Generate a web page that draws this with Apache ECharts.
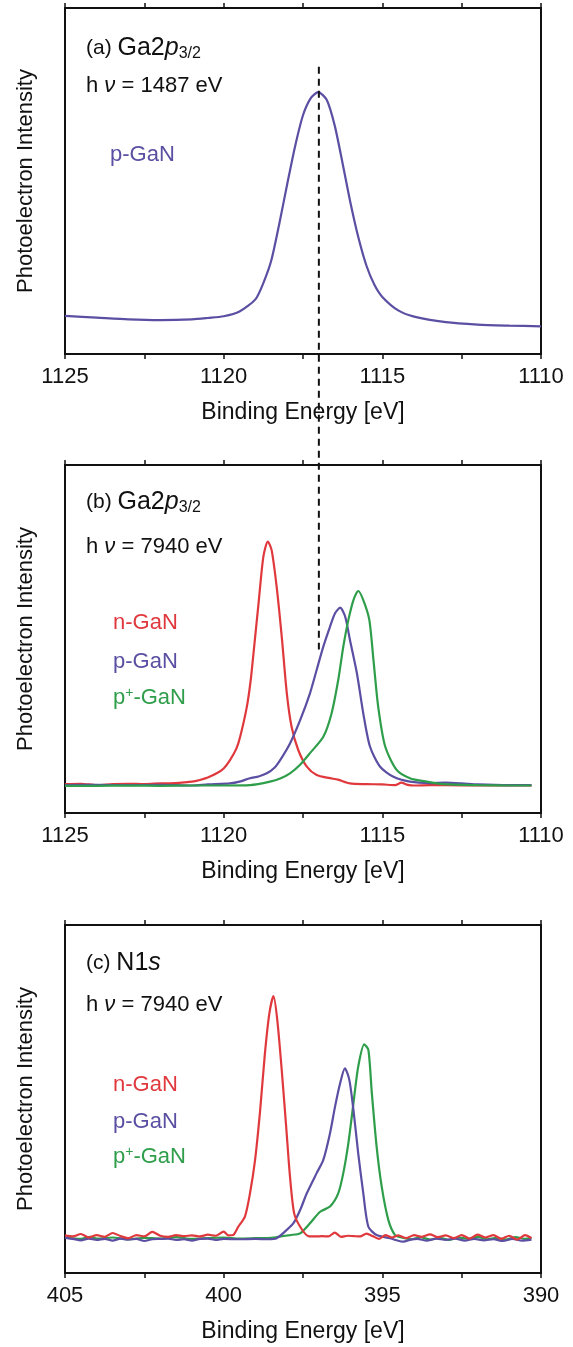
<!DOCTYPE html>
<html lang="en">
<head>
    <meta charset="UTF-8">
    <title>GaN XPS / HAXPES</title>
    <style>
        html, body { margin: 0; padding: 0; background: #fff; }
        #chart { width: 573px; height: 1347px; }
    </style>
</head>
<body>
    <div id="chart"></div>
    <script src="https://cdn.jsdelivr.net/npm/echarts@6/dist/echarts.min.js"></script>
    <script>
        // axis ranges / ticks
        var gaRange = [1110, 1125];
        var nRange = [390, 405];
        var tickStep = 2.5;
        var labelStep = 5;
        var peakRef = 1117;   // dashed guide position (eV)
        var guideTop = 83;    // intensity in panel (a) where guide starts
        var guideBottom = 47; // intensity in panel (b) where guide ends

        // (a) Ga2p3/2, hv = 1487 eV, p-GaN
        var aPGaN = [
            [1125, 11.0], [1124, 10.5], [1123, 10.0], [1122, 9.8], [1121, 10.0], [1120.5, 10.4],
            [1120, 10.9], [1119.5, 12.3], [1119.0, 15.8], [1118.75, 20.5], [1118.5, 27], [1118.25, 37.5],
            [1118.0, 49], [1117.75, 60], [1117.5, 69], [1117.25, 74], [1117.02, 75.7], [1116.75, 73.4],
            [1116.5, 66], [1116.25, 55], [1116.0, 43.5], [1115.75, 33.5], [1115.5, 25.5], [1115.25, 20],
            [1115.0, 16.5], [1114.5, 12.6], [1114.0, 10.8], [1113.0, 9.2], [1112.0, 8.5], [1111, 8.2], [1110, 8.0]
        ];

        // (b) Ga2p3/2, hv = 7940 eV
        var bNGaN = [
            [1125, 8.3], [1124.5, 8.4], [1124, 8.0], [1123.5, 8.3], [1123, 8.4], [1122.5, 8.3], [1122, 8.5],
            [1121.5, 8.6], [1121, 9.0], [1120.75, 9.5], [1120.5, 10.2], [1120.22, 11.4], [1120, 12.8],
            [1119.8, 15.2], [1119.6, 18.5], [1119.48, 21.9], [1119.27, 30.5], [1119.15, 38], [1119.06, 45.9],
            [1118.9, 60.3], [1118.75, 73.6], [1118.61, 78], [1118.49, 75.6], [1118.33, 65], [1118.17, 50.7],
            [1118.01, 34.4], [1117.86, 24.8], [1117.65, 18.1], [1117.38, 13.3], [1117.07, 10.9], [1116.65, 10.0],
            [1116.4, 9.6], [1116.02, 8.5], [1115.5, 8.3], [1115, 8.2], [1114.6, 8.0], [1114.4, 8.7], [1114.2, 8.1],
            [1114, 7.9], [1113.5, 8.0], [1113, 8.0], [1112, 7.9], [1111, 7.9], [1110.3, 7.9]
        ];
        var bPGaN = [
            [1125, 8.0], [1124, 8.1], [1123, 8.0], [1122, 8.1], [1121, 7.9], [1120.5, 8.2], [1119.8, 8.5],
            [1119.5, 9.0], [1119.17, 10.0], [1118.9, 10.5], [1118.64, 11.4], [1118.4, 13.0], [1118.22, 15.2],
            [1117.91, 20], [1117.59, 26.7], [1117.28, 34.4], [1117.07, 41.1], [1116.86, 47.8], [1116.65, 53.5],
            [1116.49, 57.4], [1116.33, 59], [1116.17, 56.4], [1116.02, 49.7], [1115.8, 40.1], [1115.6, 28.6],
            [1115.39, 19.1], [1115.07, 13.3], [1114.65, 10.4], [1114.13, 9.0], [1113.5, 8.6], [1113, 8.7],
            [1112.5, 8.5], [1112, 8.2], [1111, 8.0], [1110.3, 8.0]
        ];
        var bPpGaN = [
            [1125, 7.8], [1124, 7.8], [1123, 7.9], [1122, 7.8], [1121, 7.9], [1120, 7.9], [1119.17, 8.0],
            [1118.54, 9.0], [1118.2, 10.0], [1117.91, 11.4], [1117.6, 13.8], [1117.28, 17.2], [1116.86, 21.9],
            [1116.6, 28.6], [1116.39, 38.2], [1116.23, 47.8], [1116.07, 55.5], [1115.91, 61.2], [1115.76, 63.8],
            [1115.6, 61.2], [1115.41, 55.5], [1115.28, 44], [1115.13, 30.5], [1114.91, 19.1], [1114.55, 12.4],
            [1114.13, 10.0], [1113.6, 9.0], [1113.08, 8.3], [1112, 8.0], [1111, 7.9], [1110.3, 7.9]
        ];

        // (c) N1s, hv = 7940 eV
        var cNGaN = [
            [405, 10.8], [404.75, 10.5], [404.5, 11.2], [404.25, 10.2], [404, 10.9], [403.75, 10.4], [403.5, 11.5],
            [403.25, 10.6], [403, 10.0], [402.75, 10.9], [402.5, 10.5], [402.25, 11.8], [402, 10.7], [401.75, 10.4],
            [401.5, 10.9], [401.25, 10.6], [401, 10.8], [400.75, 10.5], [400.5, 11.0], [400.25, 10.7], [400, 11.9],
            [399.85, 10.8], [399.7, 10.9], [399.54, 13.3], [399.33, 16.2], [399.17, 22.9], [399.01, 32.5],
            [398.85, 46.8], [398.7, 63.1], [398.56, 74.6], [398.43, 79.6], [398.31, 72.7], [398.17, 58.3],
            [398.03, 42], [397.91, 27.7], [397.78, 17.2], [397.59, 13.3], [397.33, 10.6], [397.1, 10.5],
            [396.9, 10.6], [396.7, 10.5], [396.5, 11.6], [396.3, 10.4], [396.1, 10.7], [395.9, 10.6], [395.7, 10.5],
            [395.5, 11.3], [395.3, 10.6], [395.1, 9.8], [394.9, 10.9], [394.7, 10.2], [394.5, 10.8], [394.25, 10.0],
            [394, 10.9], [393.75, 10.4], [393.5, 11.1], [393.25, 10.3], [393, 10.8], [392.75, 10.0], [392.5, 10.9],
            [392.25, 9.9], [392, 11.0], [391.75, 10.2], [391.5, 10.9], [391.25, 9.8], [391, 10.7], [390.75, 9.6],
            [390.5, 10.9], [390.3, 10.0]
        ];
        var cPGaN = [
            [405, 10.1], [404.75, 9.8], [404.5, 9.4], [404.25, 9.9], [404, 9.5], [403.75, 9.8], [403.5, 9.3],
            [403.25, 9.9], [403, 9.6], [402.75, 9.8], [402.5, 9.2], [402.25, 9.7], [402, 9.8], [401.75, 9.9],
            [401.5, 9.5], [401.25, 9.7], [401, 9.3], [400.75, 9.8], [400.5, 9.9], [400.25, 9.5], [400, 9.8],
            [399.5, 9.7], [399, 9.8], [398.6, 9.7], [398.33, 10.0], [398.01, 12.4], [397.8, 14.3], [397.59, 18.1],
            [397.38, 22.9], [397.07, 28.7], [396.86, 32.5], [396.65, 40.1], [396.49, 47.8], [396.33, 54.5],
            [396.18, 58.8], [396.04, 55.5], [395.91, 46.8], [395.76, 34.4], [395.6, 22.9], [395.44, 13.3],
            [395.18, 10.9], [394.76, 10.0], [394.55, 9.4], [394.34, 9.0], [394.1, 9.6], [393.9, 9.8], [393.6, 9.3],
            [393.3, 9.9], [393, 9.5], [392.7, 9.9], [392.4, 9.3], [392.1, 9.8], [391.8, 9.4], [391.5, 9.7],
            [391.2, 9.2], [390.9, 9.8], [390.6, 9.3], [390.3, 9.6]
        ];
        var cPpGaN = [
            [405, 10.2], [404.5, 9.8], [404.2, 10.4], [404, 9.9], [403.5, 10.2], [403, 9.7], [402.5, 10.1],
            [402, 9.9], [401.5, 10.3], [401, 9.8], [400.5, 10.0], [400, 10.2], [399.5, 9.9], [399, 10.0],
            [398.5, 10.1], [398.2, 10.5], [397.91, 10.9], [397.59, 11.4], [397.28, 14.3], [396.96, 17.6],
            [396.65, 19.1], [396.39, 22.9], [396.23, 28.7], [396.07, 37.3], [395.91, 48.8], [395.76, 59.3],
            [395.57, 65.7], [395.44, 64.1], [395.33, 51.6], [395.18, 36.3], [395.02, 24.8], [394.81, 15.2],
            [394.6, 10.9], [394.4, 10.2], [394.1, 9.7], [393.8, 10.3], [393.5, 9.6], [393.2, 10.1], [392.9, 9.5],
            [392.6, 10.2], [392.3, 9.8], [392, 10.4], [391.7, 9.7], [391.4, 10.1], [391.1, 9.6], [390.8, 10.3],
            [390.5, 9.8], [390.3, 10.1]
        ];

        var RED = '#e0393d';
        var BLUE = '#5a4fa2';
        var GREEN = '#2f9e4a';
        var FONT = '"Liberation Sans", Arial, Helvetica, sans-serif';

        var grids = [
            { left: 65, width: 476, top: 8, height: 346 },
            { left: 65, width: 476, top: 465, height: 348 },
            { left: 65, width: 476, top: 925, height: 348 }
        ];
        grids.forEach(function (g) {
            g.show = true;
            g.borderColor = '#111';
            g.borderWidth = 2;
            g.backgroundColor = 'transparent';
        });

        function xAxes(range, gi) {
            var bottom = {
                type: 'value', gridIndex: gi, min: range[0], max: range[1], interval: tickStep,
                inverse: true, position: 'bottom',
                name: 'Binding Energy [eV]', nameLocation: 'middle', nameGap: 47,
                nameTextStyle: { color: '#111', fontSize: 23, fontFamily: FONT },
                axisLine: { show: true, onZero: false, lineStyle: { color: '#111', width: 2 } },
                axisTick: { show: true, inside: false, length: 5, lineStyle: { color: '#111', width: 1.5 } },
                axisLabel: {
                    color: '#111', fontSize: 22, fontFamily: FONT, margin: 12,
                    formatter: function (v) { return v % labelStep === 0 ? String(v) : ''; }
                },
                splitLine: { show: false }
            };
            var top = {
                type: 'value', gridIndex: gi, min: range[0], max: range[1], interval: tickStep,
                inverse: true, position: 'top',
                axisLine: { show: true, onZero: false, lineStyle: { color: '#111', width: 2 } },
                axisTick: { show: true, inside: false, length: 5, lineStyle: { color: '#111', width: 1.5 } },
                axisLabel: { show: false },
                splitLine: { show: false }
            };
            return [bottom, top];
        }

        function yAxis(gi) {
            return {
                type: 'value', gridIndex: gi, min: 0, max: 100,
                name: 'Photoelectron Intensity', nameLocation: 'middle', nameGap: 28,
                nameTextStyle: { color: '#111', fontSize: 22, fontFamily: FONT },
                axisLine: { show: true, lineStyle: { color: '#111', width: 2 } },
                axisTick: { show: false },
                axisLabel: { show: false },
                splitLine: { show: false }
            };
        }

        function line(name, data, color, xi, yi) {
            return {
                name: name, type: 'line', data: data, xAxisIndex: xi, yAxisIndex: yi,
                showSymbol: false, symbol: 'none', smooth: 0.25,
                lineStyle: { color: color, width: 2.2 },
                itemStyle: { color: color },
                animation: false
            };
        }

        function st(size, color, extra) {
            var s = { fontSize: size, fontFamily: FONT, color: color, fontWeight: 'normal' };
            for (var k in extra) s[k] = extra[k];
            return s;
        }

        var rich = {
            par: st(21, '#111', { lineHeight: 28 }),
            big: st(25, '#111', { lineHeight: 28 }),
            it: st(25, '#111', { fontStyle: 'italic', lineHeight: 28 }),
            sub: st(16, '#111', { lineHeight: 16, verticalAlign: 'bottom' }),
            txt: st(22, '#111', { lineHeight: 24 }),
            nu: st(22, '#111', { fontStyle: 'italic', lineHeight: 24 }),
            r: st(22, RED, { lineHeight: 24 }),
            b: st(22, BLUE, { lineHeight: 24 }),
            g: st(22, GREEN, { lineHeight: 24 }),
            gsup: st(14, GREEN, { lineHeight: 13, verticalAlign: 'top' })
        };

        function label(text, left, top) {
            return { text: text, left: left, top: top, padding: 0, textStyle: { fontWeight: 'normal', rich: rich } };
        }

        var titles = [
            label('{par|(a) }{big|Ga2}{it|p}{sub|3/2}', 86, 34),
            label('{txt|h }{nu|ν}{txt| = 1487 eV}', 86, 74),
            label('{b|p-GaN}', 110, 143),

            label('{par|(b) }{big|Ga2}{it|p}{sub|3/2}', 86, 488),
            label('{txt|h }{nu|ν}{txt| = 7940 eV}', 86, 535),
            label('{r|n-GaN}', 113, 611),
            label('{b|p-GaN}', 113, 650),
            label('{g|p}{gsup|+}{g|-GaN}', 113, 686),

            label('{par|(c) }{big|N1}{it|s}', 86, 949),
            label('{txt|h }{nu|ν}{txt| = 7940 eV}', 86, 993),
            label('{r|n-GaN}', 113, 1073),
            label('{b|p-GaN}', 113, 1110),
            label('{g|p}{gsup|+}{g|-GaN}', 113, 1145)
        ];

        var chart = echarts.init(document.getElementById('chart'));

        var option = {
            backgroundColor: '#fff',
            animation: false,
            title: titles,
            grid: grids,
            xAxis: xAxes(gaRange, 0).concat(xAxes(gaRange, 1), xAxes(nRange, 2)),
            yAxis: [yAxis(0), yAxis(1), yAxis(2)],
            series: [
                line('p-GaN', aPGaN, BLUE, 0, 0),
                line('n-GaN', bNGaN, RED, 2, 1),
                line('p-GaN', bPGaN, BLUE, 2, 1),
                line('p+-GaN', bPpGaN, GREEN, 2, 1),
                line('p+-GaN', cPpGaN, GREEN, 4, 2),
                line('p-GaN', cPGaN, BLUE, 4, 2),
                line('n-GaN', cNGaN, RED, 4, 2)
            ]
        };

        chart.setOption(option);

        // dashed guide from panel (a) into panel (b), through the axis scales
        var p1 = chart.convertToPixel({ xAxisIndex: 0, yAxisIndex: 0 }, [peakRef, guideTop]);
        var p2 = chart.convertToPixel({ xAxisIndex: 2, yAxisIndex: 1 }, [peakRef, guideBottom]);
        chart.setOption({
            graphic: [{
                type: 'line',
                shape: { x1: p1[0], y1: p1[1], x2: p2[0], y2: p2[1] },
                style: { stroke: '#111', lineWidth: 2, lineDash: [7, 5] },
                z: 100
            }]
        });
    </script>
</body>
</html>
